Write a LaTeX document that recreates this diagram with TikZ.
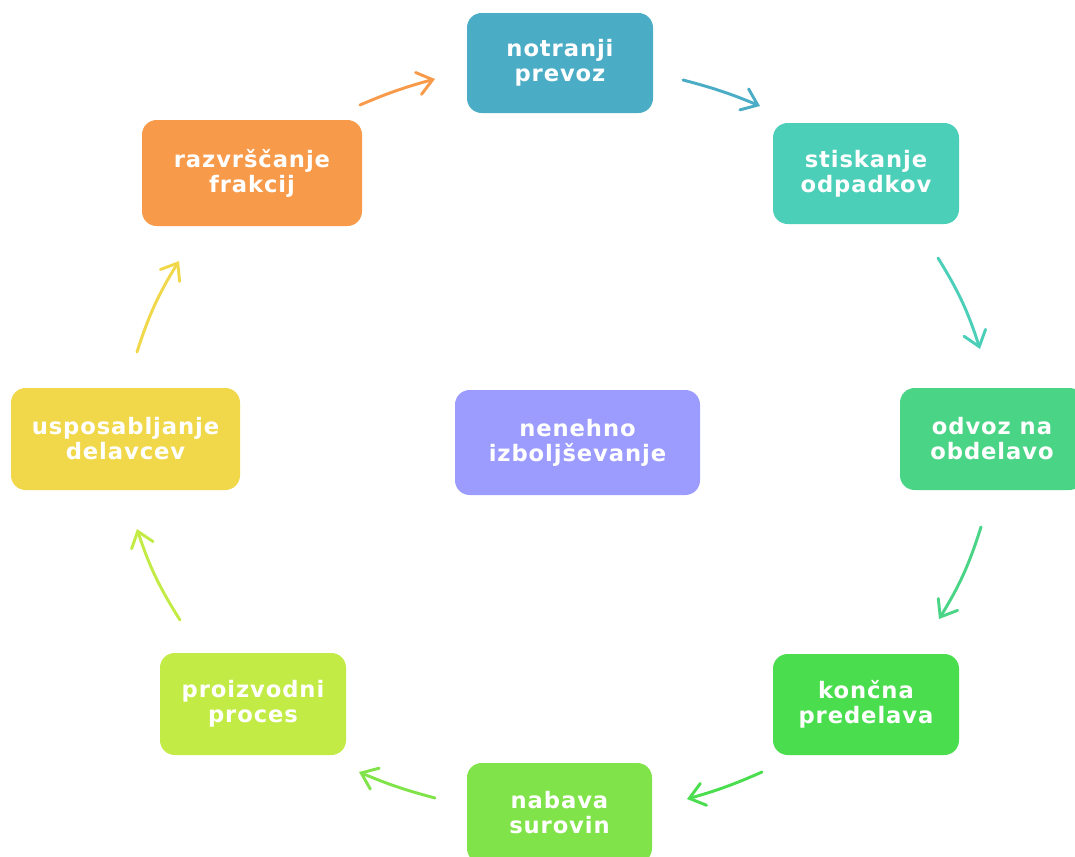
\documentclass[tikz,border=0pt]{standalone}
\usepackage{fontspec}
\newfontfamily\lblfont[LetterSpace=4]{DejaVu Sans Bold}
\usetikzlibrary{arrows.meta}
\definecolor{cA}{HTML}{4BACC6}
\definecolor{cB}{HTML}{4BCFB8}
\definecolor{cC}{HTML}{4AD486}
\definecolor{cD}{HTML}{4ADE4F}
\definecolor{cE}{HTML}{80E34A}
\definecolor{cF}{HTML}{C3EB45}
\definecolor{cG}{HTML}{F0D84A}
\definecolor{cH}{HTML}{F79A4A}
\definecolor{cI}{HTML}{9C9CFF}
\tikzset{
  box/.style={rounded corners=11pt, inner sep=0pt, text=white, align=center,
    font=\lblfont\fontsize{17}{18.75}\selectfont},
  arr/.style={line width=2.2pt, line cap=round,
    -{Straight Barb[length=11pt,width=17pt,line cap=round]}}
}
\begin{document}
\begin{tikzpicture}[x=0.75pt,y=-0.75pt]
\useasboundingbox (0,0) rectangle (1075,857);
\clip (0,0) rectangle (1075,857);
\node[box, fill=cA, minimum width=139.5pt, minimum height=75pt] (b1) at (560,63) {notranji\\prevoz};
\node[box, fill=cB, minimum width=139.5pt, minimum height=75.75pt] (b2) at (866,173.5) {stiskanje\\odpadkov};
\node[box, fill=cC, minimum width=138pt, minimum height=76.5pt] (b3) at (992,439) {odvoz na\\obdelavo};
\node[box, fill=cD, minimum width=139.5pt, minimum height=75.75pt] (b4) at (866,704.5) {končna\\predelava};
\node[box, fill=cE, minimum width=138.75pt, minimum height=75pt] (b5) at (559.5,813) {nabava\\surovin};
\node[box, fill=cF, minimum width=139.5pt, minimum height=76.5pt] (b6) at (253,704) {proizvodni\\proces};
\node[box, fill=cG, minimum width=171.75pt, minimum height=76.5pt] (b7) at (125.5,439) {usposabljanje\\delavcev};
\node[box, fill=cH, minimum width=165pt, minimum height=79.5pt] (b8) at (252,173) {razvrščanje\\frakcij};
\node[box, fill=cI, minimum width=183.75pt, minimum height=78.75pt] (b9) at (577.5,442.5) {nenehno\\izboljševanje};

\coordinate (a1s) at (683,80);  \coordinate (a1e) at (760,106);
\coordinate (a2s) at (938,258); \coordinate (a2e) at (980,349);
\coordinate (a3s) at (981,527); \coordinate (a3e) at (939,619);
\coordinate (a4s) at (762,772); \coordinate (a4e) at (687,799);
\coordinate (a5s) at (435,798); \coordinate (a5e) at (359,772);
\coordinate (a6s) at (180,620); \coordinate (a6e) at (137,529);
\coordinate (a7s) at (137,352); \coordinate (a7e) at (179,261);
\coordinate (a8s) at (360,105); \coordinate (a8e) at (435,79);

\draw[arr, draw=cA] (a1s) to[bend left=4] (a1e);
\draw[arr, draw=cB] (a2s) to[bend left=7] (a2e);
\draw[arr, draw=cC] (a3s) to[bend left=7] (a3e);
\draw[arr, draw=cD] (a4s) to[bend left=4] (a4e);
\draw[arr, draw=cE] (a5s) to[bend left=4] (a5e);
\draw[arr, draw=cF] (a6s) to[bend left=7] (a6e);
\draw[arr, draw=cG] (a7s) to[bend left=7] (a7e);
\draw[arr, draw=cH] (a8s) to[bend left=4] (a8e);
\end{tikzpicture}
\end{document}
